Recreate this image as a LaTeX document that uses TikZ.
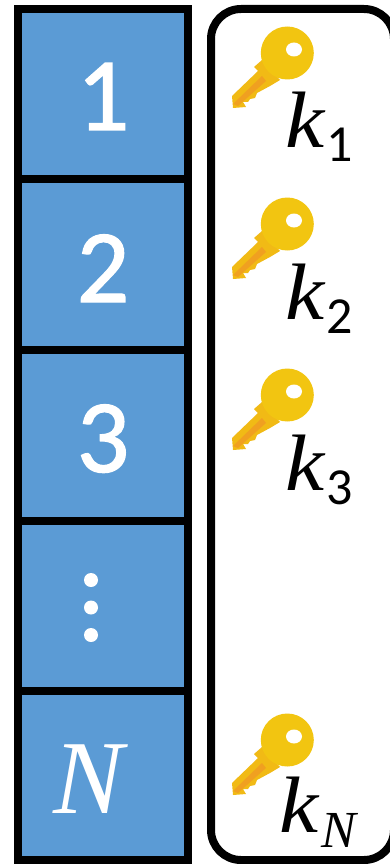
\documentclass[tikz,border=0pt]{standalone}
\usepackage{fontspec}
\setmainfont[FakeBold=1.2]{Carlito}
\newfontfamily\plainsub{Carlito}
\newfontfamily\mathlike[ItalicFont={Liberation Serif Italic}]{Liberation Serif}
\definecolor{cellblue}{HTML}{5B9BD5}
\definecolor{keygold}{HTML}{F2C511}
\definecolor{keyorange}{HTML}{F0A020}
\tikzset{
  frameline/.style={draw=black,line width=8pt},
  numlabel/.style={text=white,font=\fontsize{104}{104}\selectfont,inner sep=0pt,anchor=base},
  nlabel/.style={text=white,font=\mathlike\itshape\fontsize{105}{105}\selectfont,inner sep=0pt,anchor=base},
  klabel/.style={text=black,font=\mathlike\itshape\fontsize{80}{80}\selectfont,inner sep=0pt,anchor=base,xscale=1.1},
  subbig/.style={text=black,font=\plainsub\fontsize{52}{52}\selectfont,inner sep=0pt,anchor=base},
  subital/.style={text=black,font=\mathlike\itshape\fontsize{52}{52}\selectfont,inner sep=0pt,anchor=base},
}
\newcommand{\drawkey}[1]{%
  \begin{scope}[yshift=-#1pt]
    \fill[keygold!70!keyorange] (232,96) -- (258,71) -- (254,67) -- (262,60) -- (280,80) -- (270,86) -- (257,93) -- (255,98) -- (250,99) -- (248,102) -- (243,102) -- (246,107) -- (233,108) -- cycle;
    \fill[keyorange] (233,104) -- (262,76) -- (266,81) -- (238,106) -- cycle;
    \fill[keygold] (287.3,53) circle[radius=26.5];
    \fill[white] (294,49.5) ellipse[x radius=8,y radius=7];
  \end{scope}}
\begin{document}
\begin{tikzpicture}[x=1pt,y=-1pt]
\useasboundingbox (0,0) rectangle (390,864);
\clip (0,0) rectangle (390,864);
\fill[white] (0,0) rectangle (390,864);
% column cells
\fill[cellblue] (18,9) rectangle (188,860);
\draw[frameline] (18,9) rectangle (188,860);
\draw[frameline] (14,178.5) -- (192,178.5);
\draw[frameline] (14,349.5) -- (192,349.5);
\draw[frameline] (14,520.5) -- (192,520.5);
\draw[frameline] (14,691) -- (192,691);
\node[numlabel] (one) at (103,130) {1};
\node[numlabel] (two) at (103,302) {2};
\node[numlabel] (three) at (103,472) {3};
\node[nlabel] (en) at (89,813) {N};
\fill[white] (91,580) circle[radius=7] (91,607.5) circle[radius=7] (91,635) circle[radius=7];
% key frame
\draw[frameline,rounded corners=30pt] (211,9) rectangle (394,860);
\drawkey{0}\drawkey{171}\drawkey{342}\drawkey{687}
\node[klabel] (k1) at (305,147) {k};
\node[subbig] (s1) at (340,161) {1};
\node[klabel] (k2) at (305,319) {k};
\node[subbig] (s2) at (340,333) {2};
\node[klabel] (k3) at (305,490) {k};
\node[subbig] (s3) at (340,504) {3};
\node[klabel] (kn) at (299,832) {k};
\node[subital] (sn) at (339,847) {N};
\end{tikzpicture}
\end{document}
